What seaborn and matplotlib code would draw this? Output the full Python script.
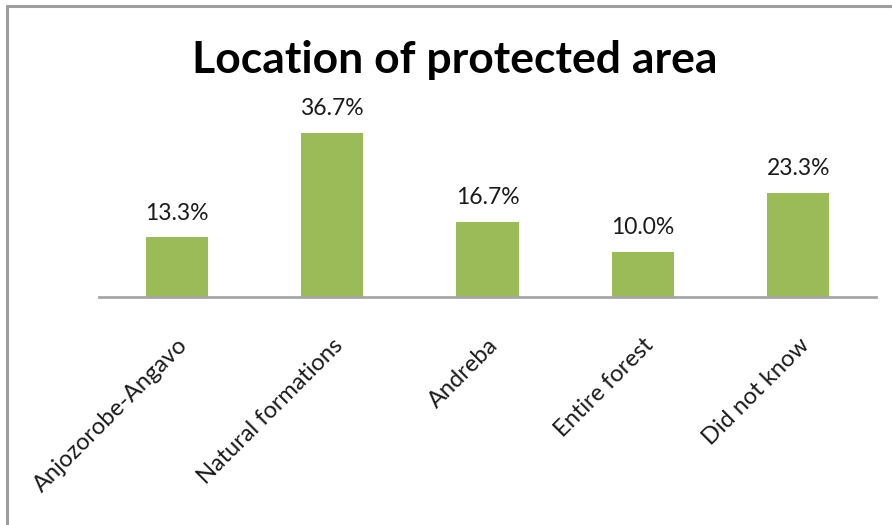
import matplotlib
matplotlib.use("Agg")
import matplotlib.pyplot as plt
import seaborn as sns
import pandas as pd
from matplotlib.lines import Line2D

categories = ["Anjozorobe-Angavo", "Natural formations", "Andreba", "Entire forest", "Did not know"]
percent = [13.3, 36.7, 16.7, 10.0, 23.3]

sns.set_style("white")
plt.rcParams["font.family"] = ["Lato", "DejaVu Sans"]

df = pd.DataFrame({"location": categories, "percent": percent})

fig = plt.figure(figsize=(8.92, 5.25), dpi=100)
ax = fig.add_axes([0.111, 0.4343, 0.871, 0.341])

sns.barplot(data=df, x="location", y="percent", color="#9BBB59",
            saturation=1, width=0.4, ax=ax, edgecolor="none")

ax.set_ylim(0, 40)
ax.set_xlim(-0.5, len(categories) - 0.5)
ax.set_xlabel("")
ax.set_ylabel("")
ax.set_yticks([])
for side in ["left", "right", "top"]:
    ax.spines[side].set_visible(False)
ax.spines["bottom"].set_color("#A6A6A6")
ax.spines["bottom"].set_linewidth(2)

ax.tick_params(axis="x", length=0, pad=27)
ax.set_xticks(range(len(categories)))
ax.set_xticklabels(categories, rotation=45, ha="right", rotation_mode="anchor",
                   fontsize=17, color="#1a1a1a")

for i, v in enumerate(percent):
    ax.annotate(f"{v:.1f}%", (i, v), xytext=(0, 10), textcoords="offset points",
                ha="center", va="bottom", fontsize=16.5, color="#1a1a1a")

fig.text(0.51, 0.886, "Location of protected area", ha="center", va="center",
         fontsize=32, fontweight="bold", color="black")

# outer chart frame (top and left edges)
fig.add_artist(Line2D([7 / 892, 7 / 892], [0, 1 - 6 / 525], transform=fig.transFigure,
                      color="#9E9E9E", linewidth=2.2))
fig.add_artist(Line2D([7 / 892, 1], [1 - 6 / 525, 1 - 6 / 525], transform=fig.transFigure,
                      color="#9E9E9E", linewidth=2.2))

fig.savefig("out.png", dpi=100, facecolor="white")
